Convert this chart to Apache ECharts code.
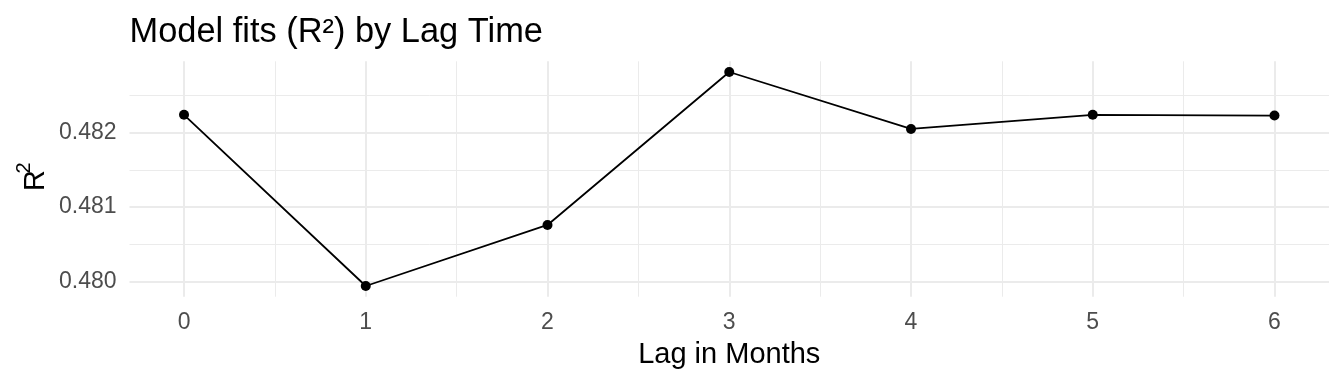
<!DOCTYPE html>
<html>
<head>
<meta charset="utf-8">
<script src="https://cdn.jsdelivr.net/npm/echarts@6/dist/echarts.min.js"></script>
<style>
html,body{margin:0;padding:0;background:#fff;}
#chart{width:1344px;height:384px;}
</style>
</head>
<body>
<div id="chart"></div>
<script>
// ---- data ----
const lags = [0, 1, 2, 3, 4, 5, 6];
const r2 = [0.48224, 0.47994, 0.48076, 0.482815, 0.48205, 0.48224, 0.48223];
const xTicks = [0, 1, 2, 3, 4, 5, 6];
const yTicks = [0.480, 0.481, 0.482];
const titleText = 'Model fits (R\u00B2) by Lag Time';
const xTitle = 'Lag in Months';

// ---- layout ----
const FONT = '"Liberation Sans", Arial, sans-serif';
const PL = 129.5, PW = 1199.5, PT = 61.3, PH = 235.4;
const xMinD = Math.min(...lags), xMaxD = Math.max(...lags);
const xPad = (xMaxD - xMinD) * 0.05;
const xMin = xMinD - xPad, xMax = xMaxD + xPad;
const yMinD = Math.min(...r2), yMaxD = Math.max(...r2);
const yPad = (yMaxD - yMinD) * 0.05;
const yMin = yMinD - yPad, yMax = yMaxD + yPad;
const xSpan = xMax - xMin, ySpan = yMax - yMin;

const xGridLeft = PL + (xTicks[0] - xMin) / xSpan * PW;
const xGridWidth = (xTicks[xTicks.length - 1] - xTicks[0]) / xSpan * PW;
const yMajTop = PT + (yMax - yTicks[yTicks.length - 1]) / ySpan * PH;
const yMajH = (yTicks[yTicks.length - 1] - yTicks[0]) / ySpan * PH;
const yMinorLo = yTicks[0] + 0.0005, yMinorHi = yTicks[yTicks.length - 1] + 0.0005;
const yMinTop = PT + (yMax - yMinorHi) / ySpan * PH;
const yMinH = (yMinorHi - yMinorLo) / ySpan * PH;

const GRID = '#EBEBEB';
const LAB = '#4D4D4D';
const hidden = {show: false};

const chart = echarts.init(document.getElementById('chart'), null, {renderer: 'canvas'});
chart.setOption({
  animation: false,
  backgroundColor: '#ffffff',
  grid: [
    {left: PL, top: PT, width: PW, height: PH, containLabel: false},
    {left: xGridLeft, top: PT, width: xGridWidth, height: PH, containLabel: false},
    {left: PL, top: yMajTop, width: PW, height: yMajH, containLabel: false},
    {left: PL, top: yMinTop, width: PW, height: yMinH, containLabel: false}
  ],
  xAxis: [
    {gridIndex: 0, type: 'value', min: xMin, max: xMax, show: false},
    {gridIndex: 1, type: 'value', min: xTicks[0], max: xTicks[xTicks.length - 1], interval: 1,
     axisLine: hidden, axisTick: hidden,
     axisLabel: {margin: 14.5, fontSize: 23, color: LAB, fontFamily: FONT, formatter: v => String(v)},
     splitLine: {show: true, lineStyle: {color: GRID, width: 2}},
     minorTick: {show: false, splitNumber: 2},
     minorSplitLine: {show: true, lineStyle: {color: GRID, width: 1}}},
    {gridIndex: 2, type: 'value', show: false},
    {gridIndex: 3, type: 'value', show: false}
  ],
  yAxis: [
    {gridIndex: 0, type: 'value', min: yMin, max: yMax, show: false},
    {gridIndex: 1, type: 'value', show: false},
    {gridIndex: 2, type: 'value', min: yTicks[0], max: yTicks[yTicks.length - 1], interval: 0.001,
     axisLine: hidden, axisTick: hidden,
     axisLabel: {margin: 13, fontSize: 23, color: LAB, fontFamily: FONT, padding: [4, 0, 0, 0],
                 formatter: v => v.toFixed(3)},
     splitLine: {show: true, lineStyle: {color: GRID, width: 2}}},
    {gridIndex: 3, type: 'value', min: yMinorLo, max: yMinorHi, interval: 0.001,
     axisLine: hidden, axisTick: hidden, axisLabel: hidden,
     splitLine: {show: true, lineStyle: {color: GRID, width: 1}}}
  ],
  graphic: [
    {type: 'text', x: 129.5, y: 32.5, z: 10,
     style: {text: titleText, fontFamily: FONT, fontSize: 34.4, fill: '#000', align: 'left', verticalAlign: 'middle'}},
    {type: 'text', x: PL + PW / 2, y: 355, z: 10,
     style: {text: xTitle, fontFamily: FONT, fontSize: 29, fill: '#000', align: 'center', verticalAlign: 'middle'}},
    {type: 'text', x: 36, y: 180.5, rotation: Math.PI / 2, z: 10,
     style: {text: 'R', fontFamily: FONT, fontSize: 29, fill: '#000', align: 'center', verticalAlign: 'middle'}},
    {type: 'text', x: 24.8, y: 168, rotation: Math.PI / 2, z: 10,
     style: {text: '2', fontFamily: FONT, fontSize: 20, fill: '#000', align: 'center', verticalAlign: 'middle'}}
  ],
  series: [{
    type: 'line', xAxisIndex: 0, yAxisIndex: 0,
    data: lags.map((x, i) => [x, r2[i]]),
    symbol: 'circle', symbolSize: 10, showSymbol: true,
    lineStyle: {color: '#000', width: 1.8},
    itemStyle: {color: '#000'},
    z: 5
  }]
});
</script>
</body>
</html>
